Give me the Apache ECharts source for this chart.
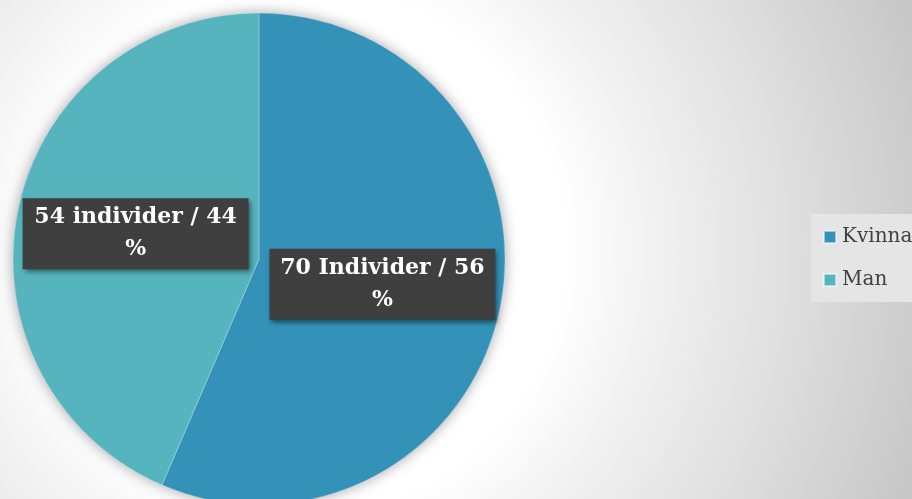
<!DOCTYPE html>
<html><head><meta charset="utf-8">
<script src="https://cdn.jsdelivr.net/npm/echarts@6/dist/echarts.min.js"></script>
<style>html,body{margin:0;padding:0;}#c{width:912px;height:499px;}</style>
</head><body><div id="c"></div>
<script>
const categories = ['Kvinna', 'Man'];
const counts = [70, 54];
const percents = [56, 44];
const labelWords = ['Individer', 'individer'];
const colors = ['#3492B9', '#56B4BE'];

const chart = echarts.init(document.getElementById('c'));
chart.setOption({
  backgroundColor: {
    type: 'radial', x: 300, y: 250, r: 660, global: true,
    colorStops: [{offset: 0, color: '#ffffff'}, {offset: 0.4, color: '#ffffff'}, {offset: 0.55, color: '#f0f0f0'}, {offset: 0.7, color: '#e3e3e3'}, {offset: 1, color: '#c6c6c6'}]
  },
  color: colors,
  legend: {
    orient: 'vertical', left: 811, top: 214,
    backgroundColor: '#e5e5e5',
    padding: [13, 30, 12, 12],
    itemWidth: 12, itemHeight: 12, itemGap: 23,
    icon: 'rect',
    textStyle: {fontFamily: 'DejaVu Serif', fontSize: 20, color: '#404040', padding: [0, 0, 0, 1]},
    data: categories
  },
  series: [{
    type: 'pie',
    name: 'shadow',
    center: [259, 259], radius: 246,
    silent: true, z: 1,
    label: {show: false}, labelLine: {show: false},
    itemStyle: {color: '#cfcfcf', shadowColor: 'rgba(0,0,0,0.35)', shadowBlur: 14},
    data: [{name: '', value: counts[0] + counts[1]}]
  }, {
    type: 'pie',
    center: [259, 259], radius: 246,
    startAngle: 90, clockwise: true,
    silent: true, z: 2,
    itemStyle: {borderColor: 'rgba(255,255,255,0.5)', borderWidth: 0.5},
    label: {
      show: true, position: 'inside',
      formatter: p => counts[p.dataIndex] + ' ' + labelWords[p.dataIndex] + ' / ' + percents[p.dataIndex] + '\n%',
      fontFamily: 'DejaVu Serif', fontWeight: 'bold', fontSize: 22, color: '#ffffff',
      lineHeight: 32, align: 'center',
      width: 206,
      backgroundColor: '#3f3f3f',
      padding: [7, 10, 0, 10],
      shadowColor: 'rgba(0,0,0,0.5)', shadowBlur: 5, shadowOffsetX: 2, shadowOffsetY: 3
    },
    labelLine: {show: false},
    data: categories.map((c, i) => ({name: c, value: counts[i]}))
  }]
});
</script></body></html>
